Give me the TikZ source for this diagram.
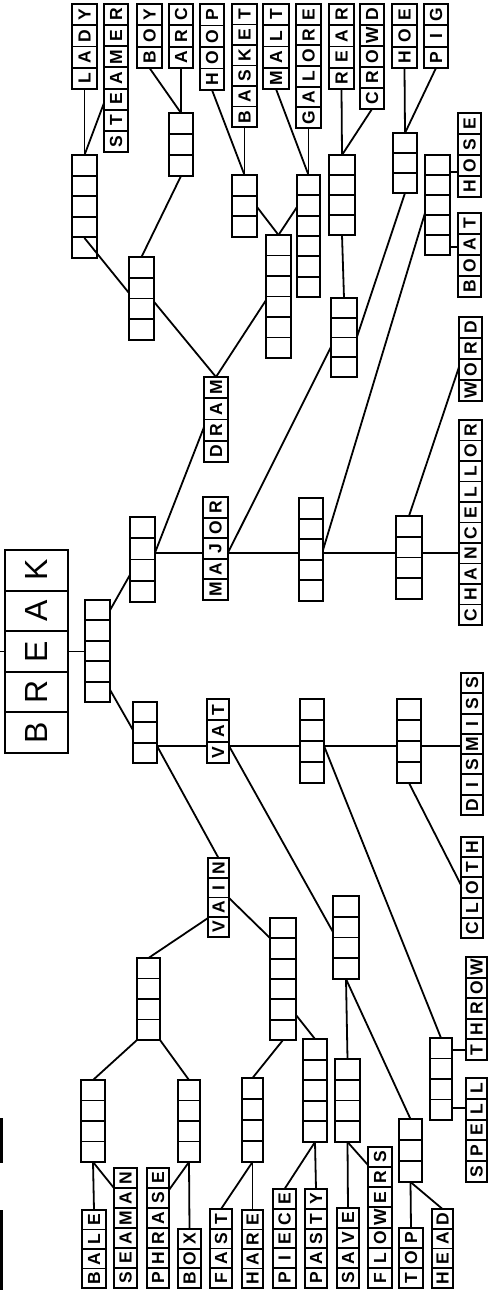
\documentclass[tikz,border=0pt]{standalone}
\usepackage{fontspec}
\newfontfamily\lsans{Liberation Sans}
\usetikzlibrary{calc}
\tikzset{
  box/.style={draw, line width=2.2pt, inner sep=0pt, outer sep=0pt},
  cellline/.style={line width=1.9pt},
  conn/.style={line width=1.8pt, line cap=round},
  letter/.style={rotate=90, inner sep=0pt, font=\lsans\bfseries\fontsize{17.5}{17.5}\selectfont},
  bigletter/.style={rotate=90, inner sep=0pt, font=\lsans\fontsize{32}{32}\selectfont},
}
% frame of a stack: name, x left, y top, x right, y bottom, cells
\newcommand\stkframe[6]{%
  \node[box, minimum width={(#4-#2)*1pt}, minimum height={(#5-#3)*1pt}, anchor=north west] (#1) at (#2,#3) {};
  \pgfmathsetmacro\cellh{(#5-#3)/#6}%
  \pgfmathtruncatemacro\nm{#6-1}%
  \foreach \k in {1,...,\nm}{\draw[cellline] (#2,{#3+\k*\cellh}) -- (#4,{#3+\k*\cellh});}%
}
\newcommand\bstk[6]{\stkframe{#1}{#2}{#3}{#4}{#5}{#6}}
\newcommand\stk[8][letter]{%
  \stkframe{#2}{#3}{#4}{#5}{#6}{#7}%
  \foreach \lt [count=\k] in {#8}{\node[#1] (#2-\k) at ({(#3+#5)/2},{#6-(\k-0.5)*\cellh}) {\lt};}%
}
\begin{document}
\begin{tikzpicture}[x=1pt,y=-1pt]
\useasboundingbox (0,0) rectangle (493,1295);
% ---- word stacks ----
\stk{LADY}{72}{4}{97}{89}{4}{L,A,D,Y}
\stk{STEAMER}{104}{4}{128}{152}{7}{S,T,E,A,M,E,R}
\stk{BOY}{137}{4}{162}{68}{3}{B,O,Y}
\stk{ARC}{169}{4}{193}{68}{3}{A,R,C}
\stk{HOOP}{200}{4}{224}{90}{4}{H,O,O,P}
\stk{BASKET}{232}{4}{257}{127}{6}{B,A,S,K,E,T}
\stk{MALT}{263}{4}{289}{89}{4}{M,A,L,T}
\stk{GALORE}{296}{4}{321}{128}{6}{G,A,L,O,R,E}
\stk{REAR}{329}{4}{354}{89}{4}{R,E,A,R}
\stk{CROWD}{360}{4}{384}{109}{5}{C,R,O,W,D}
\stk{HOE}{392}{4}{417}{68}{3}{H,O,E}
\stk{PIG}{424}{4}{448}{68}{3}{P,I,G}
\stk{HOSE}{458}{113}{481}{197}{4}{H,O,S,E}
\stk{BOAT}{458}{213}{481}{297}{4}{B,O,A,T}
\stk{WORD}{459}{317}{482}{401}{4}{W,O,R,D}
\stk{CHANCELLOR}{459}{420}{482}{625}{10}{C,H,A,N,C,E,L,L,O,R}
\stk{DISMISS}{461}{673}{483}{815}{7}{D,I,S,M,I,S,S}
\stk{CLOTH}{461}{837}{483}{938}{5}{C,L,O,T,H}
\stk{THROW}{466}{957}{487}{1060}{5}{T,H,R,O,W}
\stk{SPELL}{466}{1078}{487}{1182}{5}{S,P,E,L,L}
\stk{BALE}{82}{1210}{106}{1288}{4}{B,A,L,E}
\stk{SEAMAN}{114}{1168}{137}{1288}{6}{S,E,A,M,A,N}
\stk{PHRASE}{147}{1168}{169}{1288}{6}{P,H,R,A,S,E}
\stk{BOX}{178}{1229}{201}{1288}{3}{B,O,X}
\stk{FAST}{210}{1209}{232}{1288}{4}{F,A,S,T}
\stk{HARE}{242}{1210}{263}{1288}{4}{H,A,R,E}
\stk{PIECE}{273}{1189}{296}{1288}{5}{P,I,E,C,E}
\stk{PASTY}{305}{1189}{327}{1288}{5}{P,A,S,T,Y}
\stk{SAVE}{337}{1208}{359}{1288}{4}{S,A,V,E}
\stk{FLOWERS}{368}{1147}{392}{1288}{7}{F,L,O,W,E,R,S}
\stk{TOP}{399}{1228}{423}{1288}{3}{T,O,P}
\stk{HEAD}{432}{1209}{453}{1288}{4}{H,E,A,D}
\stk{DRAM}{204}{377}{228}{462}{4}{D,R,A,M}
\stk{MAJOR}{203}{497}{228}{600}{5}{M,A,J,O,R}
\stk{VAT}{207}{699}{229}{763}{3}{V,A,T}
\stk{VAIN}{208}{858}{229}{937}{4}{V,A,I,N}
\stk[bigletter]{BREAK}{5}{550}{68}{753}{5}{B,R,E,A,K}
% ---- blank stacks ----
\bstk{A}{72}{155}{97}{258}{5}
\bstk{B}{169}{113}{193}{176}{3}
\bstk{C}{232}{175}{257}{237}{3}
\bstk{D}{129}{257}{154}{340}{4}
\bstk{E}{266}{235}{291}{358}{6}
\bstk{F}{297}{175}{320}{297}{6}
\bstk{G}{329}{155}{355}{235}{4}
\bstk{H}{331}{298}{357}{377}{4}
\bstk{I}{393}{133}{417}{193}{3}
\bstk{J}{425}{155}{450}{255}{5}
\bstk{K}{299}{498}{323}{601}{5}
\bstk{L}{396}{516}{422}{599}{4}
\bstk{M}{130}{517}{155}{602}{4}
\bstk{N}{85}{600}{110}{702}{5}
\bstk{O}{133}{702}{157}{763}{3}
\bstk{P}{137}{958}{160}{1040}{4}
\bstk{Q}{300}{699}{324}{783}{4}
\bstk{R}{397}{699}{421}{783}{4}
\bstk{T}{333}{896}{359}{979}{4}
\bstk{Y}{270}{918}{296}{1040}{6}
\bstk{X}{242}{1078}{263}{1162}{4}
\bstk{Z}{303}{1039}{327}{1142}{5}
\bstk{AA}{335}{1059}{360}{1142}{4}
\bstk{BB}{399}{1119}{422}{1182}{3}
\bstk{CC}{430}{1038}{452}{1120}{4}
\bstk{V}{81}{1080}{105}{1162}{4}
\bstk{W}{178}{1080}{200}{1162}{4}
% cut-off box edges at the left border
\draw[line width=2.2pt] (1.5,1118) -- (1.5,1163) (1.5,1210) -- (1.5,1290);
\coordinate (edge) at (0,652);
% ---- connectors: top cluster ----
\draw[conn] (LADY.south) -- (A.north);
\draw[conn] ($(STEAMER.north west)!0.669!(STEAMER.south west)$) -- (A.north);
\draw[conn] (BOY.south) -- (B.north);
\draw[conn] (ARC.south) -- (B.north);
\draw[conn] (B.south) -- (D.north);
\draw[conn] ($(A.north)!0.806!(A.south)$) -- ($(D.north west)!0.434!(D.south west)$);
\draw[conn] ($(D.north east)!0.54!(D.south east)$) -- (DRAM.north);
\draw[conn] ($(E.north west)!0.53!(E.south west)$) -- (DRAM.north);
\draw[conn] (HOOP.south) -- (C.north);
\draw[conn] (BASKET.south) -- (C.north);
\draw[conn] ($(C.north east)!0.516!(C.south east)$) -- (E.north);
\draw[conn] ($(F.north west)!0.262!(F.south west)$) -- (E.north);
\draw[conn] (MALT.south) -- (F.north);
\draw[conn] (GALORE.south) -- (F.north);
\draw[conn] (REAR.south) -- (G.north);
\draw[conn] (CROWD.south) -- (G.north);
\draw[conn] (G.south) -- (H.north);
\draw[conn] (HOE.south) -- (I.north);
\draw[conn] (PIG.south) -- (I.north);
\draw[conn] (I.south) -- ($(H.north east)!0.49!(H.south east)$);
\draw[conn] ($(J.north west)!0.58!(J.south west)$) -- ($(K.north east)!0.505!(K.south east)$);
\coordinate (j1) at ($(J.north east)!0.17!(J.south east)$);
\draw[conn] (j1) -- (j1 -| HOSE.west);
\coordinate (j2) at ($(J.north east)!0.92!(J.south east)$);
\draw[conn] (j2) -- (j2 -| BOAT.west);
% ---- MAJOR row ----
\coordinate (h1) at ($(M.north east)!0.42!(M.south east)$);
\draw[conn] (h1) -- (h1 -| MAJOR.west) (h1 -| MAJOR.east) -- (h1 -| K.west)
  (h1 -| K.east) -- (h1 -| L.west) (h1 -| L.east) -- (h1 -| CHANCELLOR.west);
\draw[conn] (h1 -| MAJOR.east) -- ($(H.north west)!0.62!(H.south west)$);
\draw[conn] (h1) -- ($(DRAM.north west)!0.59!(DRAM.south west)$);
\draw[conn] ($(WORD.north west)!0.595!(WORD.south west)$) -- (L.north);
\draw[conn] ($(N.north east)!0.1!(N.south east)$) -- ($(M.north west)!0.68!(M.south west)$);
\draw[conn] ($(N.north east)!0.88!(N.south east)$) -- ($(O.north west)!0.46!(O.south west)$);
\coordinate (h0) at ($(BREAK.north east)!0.5!(BREAK.south east)$);
\draw[conn] (h0) -- (h0 -| N.west);
\draw[conn] (BREAK.west) -- (BREAK.west -| edge);
% ---- VAT row ----
\coordinate (h2) at ($(O.north east)!0.72!(O.south east)$);
\draw[conn] (h2) -- (h2 -| VAT.west) (h2 -| VAT.east) -- (h2 -| Q.west)
  (h2 -| Q.east) -- (h2 -| R.west) (h2 -| R.east) -- (h2 -| DISMISS.west);
\draw[conn] (h2) -- (VAIN.north);
\draw[conn] (h2 -| VAT.east) -- ($(T.north west)!0.434!(T.south west)$);
\draw[conn] (h2 -| Q.east) -- (CC.north);
\draw[conn] (R.south) -- ($(CLOTH.north west)!0.475!(CLOTH.south west)$);
\draw[conn] ($(VAIN.north east)!0.506!(VAIN.south east)$) -- ($(Y.north west)!0.164!(Y.south west)$);
\draw[conn] ($(VAIN.north west)!0.76!(VAIN.south west)$) -- (P.north);
% ---- bottom cluster ----
\draw[conn] (P.south west) -- (V.north);
\draw[conn] (P.south east) -- (W.north);
\draw[conn] (V.south) -- (BALE.north);
\draw[conn] (V.south) -- ($(SEAMAN.north west)!0.167!(SEAMAN.south west)$);
\draw[conn] (W.south) -- ($(PHRASE.north east)!0.183!(PHRASE.south east)$);
\draw[conn] (W.south) -- (BOX.north);
\draw[conn] (X.south) -- (FAST.north);
\draw[conn] (X.south) -- (HARE.north);
\draw[conn] (Y.south) -- (X.north);
\draw[conn] ($(Y.north east)!0.795!(Y.south east)$) -- (Z.north);
\draw[conn] (Z.south) -- (PIECE.north);
\draw[conn] (Z.south) -- (PASTY.north);
\draw[conn] (T.south) -- (AA.north);
\draw[conn] (T.south) -- (BB.north);
\draw[conn] (AA.south) -- (SAVE.north);
\draw[conn] (AA.south) -- ($(FLOWERS.north west)!0.128!(FLOWERS.south west)$);
\draw[conn] (BB.south) -- (TOP.north);
\draw[conn] (BB.south) -- (HEAD.north);
\coordinate (c1) at ($(CC.north east)!0.146!(CC.south east)$);
\draw[conn] (c1) -- (c1 -| THROW.west);
\coordinate (c2) at ($(CC.north east)!0.854!(CC.south east)$);
\draw[conn] (c2) -- (c2 -| SPELL.west);
\end{tikzpicture}
\end{document}
